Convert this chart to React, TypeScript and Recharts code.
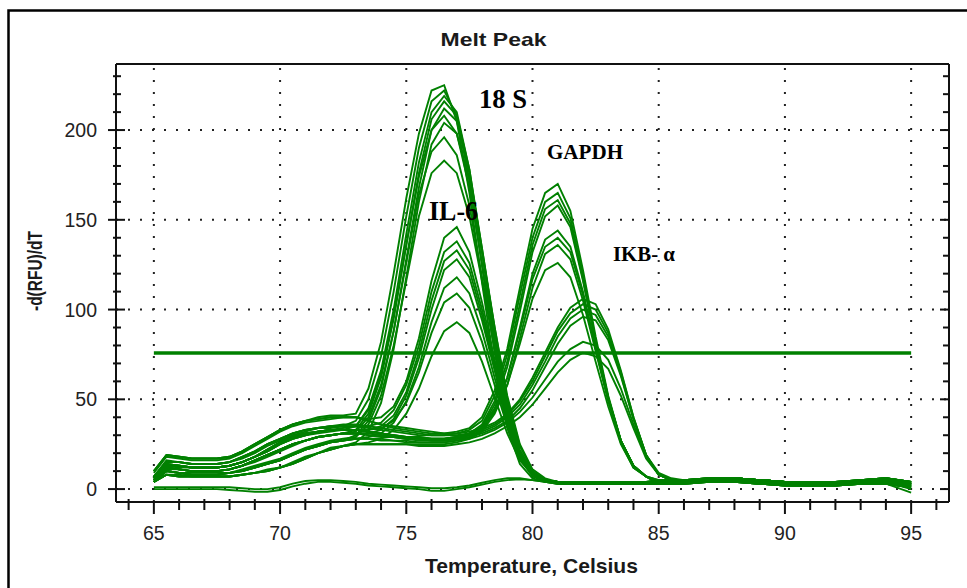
import React from 'react';
import { LineChart, Line, XAxis, YAxis, ReferenceLine } from 'recharts';

// Temperature grid (°C) shared by every melt curve
const TEMPS = [
  65, 65.5, 66, 66.5, 67, 67.5, 68, 68.5, 69, 69.5, 70, 70.5, 71, 71.5, 72, 72.5,
  73, 73.5, 74, 74.5, 75, 75.5, 76, 76.5, 77, 77.5, 78, 78.5, 79, 79.5, 80, 80.5,
  81, 81.5, 82, 82.5, 83, 83.5, 84, 84.5, 85, 85.5, 86, 87, 88, 89, 90, 91, 92, 93, 94, 95,
];

// -d(RFU)/dT per well, grouped by target
const RRNA_18S: number[][] = [
  [10,19,18,17,17,17,18,21,25,29,33,36,38,40,41,41, 42,56,82,120,162,198,222,225,205,165,115,68,34,14,6,4,3,3,3,3,3,3,3,4, 4,4,5,5,6,5,4,3,3,4,5,3],
  [7,15,15,14,14,14,15,18,21,25,28,31,33,34,35,35, 38,50,74,110,152,190,216,222,208,172,124,76,40,17,7,4,3,3,3,3,3,3,3,4, 3,3,4,4,5,4,3,2,3,3,4,2],
  [6,14,13,12,12,12,13,15,18,22,26,29,31,32,33,33, 35,45,66,100,142,182,210,219,210,178,132,84,45,20,8,5,4,3,3,3,3,3,4,4, 5,5,5,6,6,5,4,4,4,5,6,4],
  [5,12,11,10,10,10,11,13,16,19,22,25,27,29,30,31, 33,42,62,95,136,176,206,216,208,178,134,88,48,22,9,5,4,3,3,3,3,3,3,4, 4,4,5,5,6,5,4,3,3,4,5,3],
  [4,10,9,8,8,8,9,10,12,14,16,19,22,24,26,27, 30,38,56,88,128,168,200,212,205,176,134,90,50,24,10,5,4,3,3,3,3,3,3,3, 3,3,3,4,4,3,2,2,2,3,3,1],
  [6,13,13,12,12,12,13,15,18,21,25,28,30,32,33,34, 35,44,64,96,136,174,200,208,198,168,126,82,45,20,8,5,3,3,3,3,3,3,3,4, 3,3,4,4,5,4,3,2,3,3,4,2],
  [4,8,7,7,7,7,7,8,9,10,12,14,17,20,22,24, 26,32,48,78,118,160,192,204,198,172,132,90,52,25,11,6,4,3,3,3,3,3,3,3, 5,5,5,6,6,5,4,4,4,5,6,4],
  [5,11,11,10,10,10,11,13,15,18,21,24,27,29,30,31, 32,40,58,88,126,164,188,196,186,158,118,78,43,19,8,5,4,3,3,3,3,3,3,4, 4,4,5,5,6,5,4,3,3,4,5,3],
  [4,10,9,9,9,9,9,11,13,15,17,20,23,25,27,28, 29,36,52,80,116,152,176,183,176,152,116,78,44,20,8,5,4,3,3,3,3,3,3,3, 3,3,3,4,4,3,2,2,2,3,3,1],
];

const IL6: number[][] = [
  [9,18,17,16,16,16,17,20,24,28,32,35,37,38,39,40, 40,39,40,46,60,84,116,140,146,132,104,72,42,20,9,5,4,3,3,3,3,3,3,4, 4,4,5,5,6,5,4,3,3,4,5,3],
  [7,16,15,14,14,14,15,17,20,24,27,30,32,34,34,35, 35,35,37,44,58,80,110,132,138,126,100,70,40,19,9,5,4,3,3,3,3,3,3,4, 5,5,5,6,6,5,4,4,4,5,6,4],
  [6,14,13,12,12,12,13,15,18,22,26,29,31,32,33,33, 33,33,35,41,54,76,105,127,133,122,97,68,40,19,9,5,4,3,3,3,3,3,3,3, 3,3,4,4,5,4,3,2,3,3,4,2],
  [5,12,11,10,10,10,11,13,16,19,22,25,27,29,30,31, 31,31,33,39,52,73,100,122,128,118,94,66,39,19,9,5,4,3,3,3,3,3,3,3, 4,4,5,5,6,5,4,3,3,4,5,3],
  [4,10,9,8,8,8,9,10,12,14,16,19,22,24,26,27, 28,29,31,37,49,68,93,112,118,109,88,62,37,18,8,5,4,3,3,3,3,3,3,3, 3,3,3,4,4,3,2,2,2,3,3,1],
  [6,13,12,12,12,12,13,15,18,21,25,28,30,31,32,33, 33,33,34,38,48,65,87,104,109,101,82,58,35,17,8,5,4,3,3,3,3,3,3,4, 5,5,5,6,6,5,4,4,4,5,6,4],
  [4,8,8,7,7,7,7,8,9,11,12,15,18,20,23,24, 25,26,28,33,42,56,74,88,93,87,71,51,31,16,8,5,4,3,3,3,3,3,3,3, 3,3,4,4,5,4,3,2,3,3,4,2],
];

const GAPDH: number[][] = [
  [10,19,18,17,17,17,18,21,25,29,33,36,38,39,40,40, 40,38,36,34,33,32,31,31,32,34,40,55,78,112,145,165,170,155,122,85,52,27,13,7, 4,4,5,5,6,5,4,3,3,4,5,3],
  [7,15,15,14,14,14,15,18,21,25,28,31,33,34,35,35, 35,34,33,32,31,30,30,30,31,33,38,52,75,108,140,160,165,151,119,83,51,27,13,7, 5,5,5,6,6,5,4,4,4,5,6,4],
  [6,14,13,12,12,12,13,15,18,22,26,29,31,32,33,33, 33,32,31,30,29,29,28,28,29,31,36,49,71,103,136,156,161,148,117,82,50,26,12,7, 3,3,4,4,5,4,3,2,3,3,4,2],
  [5,12,11,10,10,10,11,13,16,19,22,25,27,29,30,31, 31,31,30,29,28,28,27,27,28,30,35,47,68,99,132,152,158,146,116,82,51,27,13,7, 4,4,5,5,6,5,4,3,3,4,5,3],
  [4,10,9,8,8,8,9,10,12,14,16,19,22,24,26,27, 28,28,28,27,27,26,26,26,27,29,33,44,62,90,120,139,144,135,110,79,50,27,13,7, 3,3,3,4,4,3,2,2,2,3,3,1],
  [6,13,13,12,12,12,13,15,18,21,25,28,30,32,33,33, 33,32,31,30,29,28,28,28,29,31,35,45,62,88,117,135,140,132,108,78,50,27,13,7, 5,5,5,6,6,5,4,4,4,5,6,4],
  [4,8,7,7,7,7,7,8,9,10,12,14,17,20,22,24, 25,25,25,25,25,25,25,25,26,28,32,42,58,84,112,131,136,128,105,77,49,26,12,7, 3,3,4,4,5,4,3,2,3,3,4,2],
  [5,12,11,10,10,10,11,13,16,19,22,25,27,29,30,31, 31,30,29,29,28,27,27,27,28,30,34,43,58,81,106,122,126,118,97,71,46,25,12,7, 4,4,5,5,6,5,4,3,3,4,5,3],
];

const IKBA: number[][] = [
  [10,19,18,17,17,17,18,21,25,29,33,36,38,39,40,40, 40,38,36,35,34,33,32,31,31,32,34,37,42,50,62,76,90,101,106,103,89,66,40,19, 8,5,4,5,5,5,4,3,3,4,5,3],
  [7,15,15,14,14,14,15,18,21,25,28,31,33,34,35,36, 36,35,34,33,32,31,30,30,30,31,33,36,41,49,60,74,88,98,103,100,87,65,40,19, 8,5,4,4,5,4,3,3,3,3,4,2],
  [6,14,13,12,12,12,13,15,18,22,26,29,31,32,33,33, 33,32,31,30,29,29,28,28,29,30,32,35,40,47,58,71,85,95,100,97,85,64,39,19, 9,6,5,5,6,5,4,4,4,5,6,4],
  [5,12,11,10,10,10,11,13,16,19,22,25,27,29,30,31, 31,31,30,29,28,28,27,27,28,29,31,34,38,45,55,68,81,91,96,94,83,63,39,19, 8,5,4,4,4,3,2,2,2,3,3,1],
  [4,10,9,8,8,8,9,10,12,14,16,19,22,24,26,27, 28,28,27,27,26,26,26,26,27,28,30,33,37,43,51,61,71,78,82,80,72,56,36,18, 8,5,4,5,5,5,4,3,3,4,5,3],
  [4,8,7,7,7,7,7,8,9,10,12,14,17,20,22,24, 25,25,25,25,25,24,24,24,25,26,28,31,35,40,47,56,65,72,76,74,67,52,34,17, 8,5,4,4,5,4,3,2,3,3,4,2],
];

// no-template controls
const NTC: number[][] = [
  [0,0,0,0,0,0,-0.5,-1,-1.5,-1.5,-0.5,1.5,3,4,4,3.5, 3,2,1.5,1,0.5,0,-1,-1,0,1,2.5,4,5,5.5,5,4,3,3,3,3,3,3,3,3, 3,3,3,4,4,3,2,2,2,3,3,-2],
  [1,1,1,1,1,1,1,0.5,0,0,1,3,4.5,5,5,4.5, 4,3,2.5,2,1.5,1,0.5,0.5,1,2,3.5,5,6,6,5,4,4,4,4,4,4,4,4,4, 4,4,4,5,5,4,3,3,3,4,4,0],
];

const THRESHOLD = 75.8;
const X_TICKS = [64,65,66,67,68,69,70,71,72,73,74,75,76,77,78,79,80,81,82,83,84,85,86,87,88,89,90,91,92,93,94,95,96];
const X_MAJOR = [65, 70, 75, 80, 85, 90, 95];
const Y_TICKS = [0,10,20,30,40,50,60,70,80,90,100,110,120,130,140,150,160,170,180,190,200,210,220,230];
const Y_MAJOR = [0, 50, 100, 150, 200];

const CURVES = [...RRNA_18S, ...IL6, ...GAPDH, ...IKBA, ...NTC];
const DATA = TEMPS.map((t, i) => {
  const row: Record<string, number> = { t };
  CURVES.forEach((c, j) => {
    row['c' + j] = c[i];
  });
  return row;
});

const SANS = '"Liberation Sans", Arial, sans-serif';
const SERIF = '"Liberation Serif", "Times New Roman", serif';
const GREEN = '#008000';
const INK = '#111';

const BottomTick = (props: any) => {
  const { x, y, payload } = props;
  const major = X_MAJOR.includes(payload.value);
  return (
    <g>
      <line x1={x} x2={x} y1={y - (major ? 1 : 3)} y2={y + (major ? 12 : 8)} stroke={INK} strokeWidth={2} />
      {major && (
        <text x={x} y={y + 38} textAnchor="middle" fontFamily={SANS} fontSize={19.5} fill="#222">
          {payload.value}
        </text>
      )}
    </g>
  );
};

const TopTick = (props: any) => {
  const { x, y, payload } = props;
  const major = X_MAJOR.includes(payload.value);
  return <line x1={x} x2={x} y1={y} y2={y + (major ? 8 : 5)} stroke={INK} strokeWidth={2} />;
};

const LeftTick = (props: any) => {
  const { x, y, payload } = props;
  const major = Y_MAJOR.includes(payload.value);
  return (
    <g>
      <line x1={x - (major ? 8 : 3)} x2={x + (major ? 9 : 5)} y1={y} y2={y} stroke={INK} strokeWidth={2} />
      {major && (
        <text x={x - 19} y={y + 7} textAnchor="end" fontFamily={SANS} fontSize={19.5} fill="#222">
          {payload.value}
        </text>
      )}
    </g>
  );
};

const RightTick = (props: any) => {
  const { x, y, payload } = props;
  const major = Y_MAJOR.includes(payload.value);
  return <line x1={x} x2={x - (major ? 9 : 6)} y1={y} y2={y} stroke={INK} strokeWidth={2} />;
};

const axisLine = { stroke: INK, strokeWidth: 2 };
const gridStyle = { stroke: '#222', strokeWidth: 2, strokeDasharray: '2 10' };

export default function App() {
  return (
    <div style={{ position: 'absolute', left: 0, top: 0, width: 967, height: 588, background: '#fff' }}>
      <LineChart
        width={967}
        height={588}
        data={DATA}
        margin={{ top: 34, right: 0, bottom: 0, left: 0 }}
      >
        <XAxis
          xAxisId="b"
          dataKey="t"
          type="number"
          domain={[63.5, 96.5]}
          ticks={X_TICKS}
          interval={0}
          allowDataOverflow
          height={86}
          tickSize={0}
          tickMargin={0}
          tickLine={false}
          axisLine={axisLine}
          tick={BottomTick}
        />
        <XAxis
          xAxisId="t"
          orientation="top"
          type="number"
          domain={[63.5, 96.5]}
          ticks={X_TICKS}
          interval={0}
          allowDataOverflow
          height={30}
          tickSize={0}
          tickMargin={0}
          tickLine={false}
          axisLine={axisLine}
          tick={TopTick}
        />
        <YAxis
          yAxisId="l"
          type="number"
          domain={[-7.2, 236.8]}
          ticks={Y_TICKS}
          interval={0}
          allowDataOverflow
          width={116}
          tickSize={0}
          tickMargin={0}
          tickLine={false}
          axisLine={axisLine}
          tick={LeftTick}
        />
        <YAxis
          yAxisId="r"
          orientation="right"
          type="number"
          domain={[-7.2, 236.8]}
          ticks={Y_TICKS}
          interval={0}
          allowDataOverflow
          width={18}
          tickSize={0}
          tickMargin={0}
          tickLine={false}
          axisLine={axisLine}
          tick={RightTick}
        />
        {X_MAJOR.map((v) => (
          <ReferenceLine key={'gx' + v} xAxisId="b" yAxisId="l" x={v} {...gridStyle} />
        ))}
        {Y_MAJOR.map((v) => (
          <ReferenceLine key={'gy' + v} xAxisId="b" yAxisId="l" y={v} {...gridStyle} />
        ))}
        {CURVES.map((_, j) => (
          <Line
            key={'c' + j}
            xAxisId="b"
            yAxisId="l"
            dataKey={'c' + j}
            type="linear"
            stroke={GREEN}
            strokeWidth={1.9}
            dot={false}
            activeDot={false}
            isAnimationActive={false}
          />
        ))}
        <ReferenceLine
          xAxisId="b"
          yAxisId="l"
          segment={[{ x: 65, y: THRESHOLD }, { x: 95, y: THRESHOLD }]}
          stroke={GREEN}
          strokeWidth={3.5}
        />
      </LineChart>
      <svg
        width={967}
        height={588}
        style={{ position: 'absolute', left: 0, top: 0, pointerEvents: 'none' }}
      >
        <path d="M8.5 588 V10.5 H967" fill="none" stroke="#000" strokeWidth={2.5} />
        <text x={493.5} y={46} textAnchor="middle" fontFamily={SANS} fontWeight="bold" fontSize={19} fill="#1a1a1a" textLength={106} lengthAdjust="spacingAndGlyphs">
          Melt Peak
        </text>
        <text x={531.5} y={573} textAnchor="middle" fontFamily={SANS} fontWeight="bold" fontSize={21} fill="#1a1a1a" textLength={213} lengthAdjust="spacingAndGlyphs">
          Temperature, Celsius
        </text>
        <text transform="translate(42,271) rotate(-90)" x={0} y={0} textAnchor="middle" fontFamily={SANS} fontWeight="bold" fontSize={20} fill="#1a1a1a" textLength={80} lengthAdjust="spacingAndGlyphs">
          -d(RFU)/dT
        </text>
        <text x={503} y={108} textAnchor="middle" fontFamily={SERIF} fontWeight="bold" fontSize={28} fill="#000" textLength={48} lengthAdjust="spacingAndGlyphs">
          18 S
        </text>
        <text x={585} y={159} textAnchor="middle" fontFamily={SERIF} fontWeight="bold" fontSize={21} fill="#000" textLength={76} lengthAdjust="spacingAndGlyphs">
          GAPDH
        </text>
        <text x={453.5} y={220} textAnchor="middle" fontFamily={SERIF} fontWeight="bold" fontSize={27} fill="#000" textLength={49} lengthAdjust="spacingAndGlyphs">
          IL-6
        </text>
        <text x={644} y={261} textAnchor="middle" fontFamily={SERIF} fontWeight="bold" fontSize={21} fill="#000" textLength={62} lengthAdjust="spacingAndGlyphs">
          IKB- α
        </text>
      </svg>
    </div>
  );
}
